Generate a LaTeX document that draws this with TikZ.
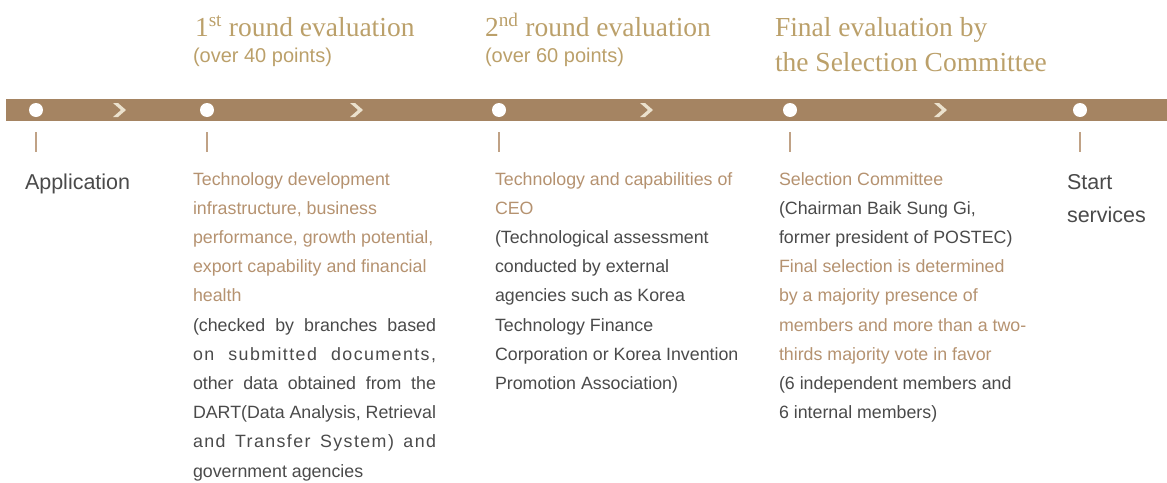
\documentclass[tikz,border=0pt]{standalone}
\usepackage{fontspec}
\setmainfont{Liberation Serif}
\setsansfont{Liberation Sans}
\newfontfamily\widesans[LetterSpace=8]{Liberation Sans}
\usetikzlibrary{positioning}

\definecolor{barbrown}{HTML}{A58462}
\definecolor{headgold}{HTML}{BBA06A}
\definecolor{tan}{HTML}{B59270}
\definecolor{textgray}{HTML}{4A4A4A}
\definecolor{chevron}{HTML}{EBE1CD}
\definecolor{tickline}{HTML}{C0A286}

\newcommand{\jline}[1]{\makebox[243pt][s]{#1}}
\newcommand{\wline}[1]{\makebox[243pt][s]{\widesans #1}}
\newcommand{\tl}[1]{\textcolor{tan}{#1}}

\begin{document}
\begin{tikzpicture}[
		x=1pt, y=-1pt,
		every node/.style={inner sep=0pt, outer sep=0pt},
		dot/.style={circle, fill=white, minimum size=14pt},
		heading/.style={anchor=base west, align=left, text=headgold,
			font=\fontsize{27.5}{35}\selectfont},
		subhead/.style={anchor=base west, text=headgold,
			font=\sffamily\fontsize{20}{24}\selectfont},
		body/.style={anchor=base west, align=left, text=textgray,
			font=\sffamily\fontsize{17.8}{29.2}\selectfont},
		stage/.style={anchor=base west, align=left, text=textgray,
			font=\sffamily\fontsize{21.5}{33}\selectfont}
		]
		\useasboundingbox (0,0) rectangle (1167,482);

		% timeline bar
		\fill[barbrown] (6,99) rectangle (1167,121);
		\foreach \cx in {120,357,647,941}
			\fill[chevron] (\cx-7,103) -- (\cx-2,103) -- (\cx+6,110) -- (\cx-2,117) -- (\cx-7,117) -- (\cx+1,110) -- cycle;
		\foreach \dx [count=\i] in {36,207,499,790,1080} {
			\node[dot] (d\i) at (\dx,110) {};
			\draw[tickline, line width=1.2pt] ([yshift=-22pt]d\i.center) -- ([yshift=-42pt]d\i.center);
		}

		% headings (multi-line nodes sit on their last baseline)
		\node[heading] (round1) at (195,36) {1\textsuperscript{st} round evaluation};
		\node[subhead] (pts1) at (193,62.5) {(over 40 points)};
		\node[heading] (round2) at (485,36) {2\textsuperscript{nd} round evaluation};
		\node[subhead] (pts2) at (485,62.5) {(over 60 points)};
		\node[heading] (final) at (775,71) {Final evaluation by\\the Selection Committee};

		% stages
		\node[stage] (apply) at (25,189) {Application};
		\node[stage] (start) at (1067,222) {Start\\services};

		\node[body] (crit1) at (193,477) {\tl{Technology development}\\
			\tl{infrastructure, business}\\
			\tl{performance, growth potential,}\\
			\tl{export capability and financial}\\
			\tl{health}\\
			\jline{(checked by branches based}\\
			\wline{on submitted documents,}\\
			\jline{other data obtained from the}\\
			\jline{DART(Data Analysis, Retrieval}\\
			\wline{and Transfer System) and}\\
			government agencies};
		\node[body] (crit2) at (495,389.4) {\tl{Technology and capabilities of}\\
			\tl{CEO}\\
			(Technological assessment\\
			conducted by external\\
			agencies such as Korea\\
			Technology Finance\\
			Corporation or Korea Invention\\
			Promotion Association)};
		\node[body] (crit3) at (779,418.6) {\tl{Selection Committee}\\
			(Chairman Baik Sung Gi,\\
			former president of POSTEC)\\
			\tl{Final selection is determined}\\
			\tl{by a majority presence of}\\
			\tl{members and more than a two-}\\
			\tl{thirds majority vote in favor}\\
			(6 independent members and\\
			6 internal members)};
	\end{tikzpicture}
\end{document}
